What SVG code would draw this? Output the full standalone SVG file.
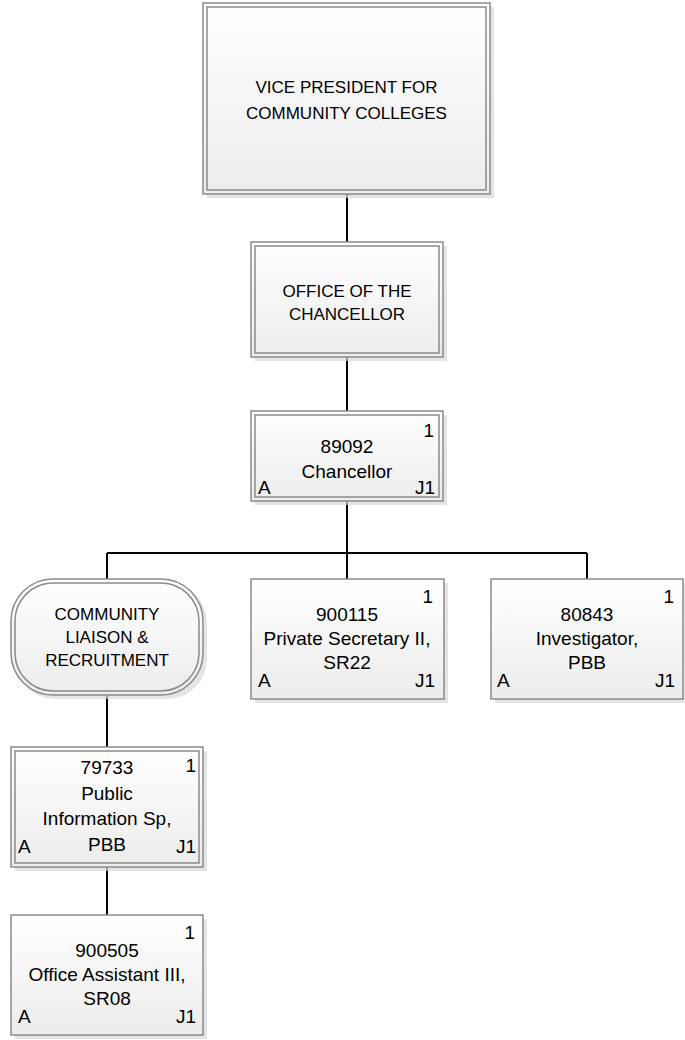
<svg xmlns="http://www.w3.org/2000/svg" width="685" height="1040" viewBox="0 0 685 1040">
<style>
.box{fill:url(#g);stroke:#8a8a8a;stroke-width:1.5}
.inner{fill:none;stroke:#8a8a8a;stroke-width:1.5}
.sh{fill:#d9d9d9;opacity:0.7}
.t{font-family:"Liberation Sans",Arial,sans-serif;font-size:19px;fill:#000;text-anchor:middle}
.u{font-family:"Liberation Sans",Arial,sans-serif;font-size:17px;fill:#000;text-anchor:middle}
.s{font-family:"Liberation Sans",Arial,sans-serif;font-size:19px;fill:#000}
.e{text-anchor:end}
.c{stroke:#000;stroke-width:2;fill:none}
</style>
<defs>
<linearGradient id="g" x1="0" y1="0" x2="0" y2="1">
<stop offset="0" stop-color="#ffffff"/>
<stop offset="1" stop-color="#ececec"/>
</linearGradient>
</defs>
<rect width="685" height="1040" fill="#fff"/>
<g id="connectors">
<path class="c" d="M347 194V242M347 357V411M347 501V553M107 553H587M107 553V579M347 553V579M587 553V579M107 695V747M107 867V915"/>
</g>
<g id="vp">
<rect class="sh" x="207" y="7" width="287" height="191"/>
<rect class="box" x="203" y="3" width="287" height="191"/>
<rect class="inner" x="207" y="7" width="279" height="183"/>
<text class="u" x="346.5" y="93">VICE PRESIDENT FOR</text>
<text class="u" x="346.5" y="119">COMMUNITY COLLEGES</text>
</g>
<g id="office">
<rect class="sh" x="255" y="246" width="192" height="115"/>
<rect class="box" x="251" y="242" width="192" height="115"/>
<rect class="inner" x="255" y="246" width="184" height="107"/>
<text class="u" x="347" y="297">OFFICE OF THE</text>
<text class="u" x="347" y="320">CHANCELLOR</text>
</g>
<g id="chancellor">
<rect class="sh" x="255" y="415" width="192" height="90"/>
<rect class="box" x="251" y="411" width="192" height="90"/>
<rect class="inner" x="255" y="415" width="184" height="82"/>
<text class="s e" x="434" y="437">1</text>
<text class="t" x="347" y="453">89092</text>
<text class="t" x="347" y="478">Chancellor</text>
<text class="s" x="258" y="494">A</text>
<text class="s e" x="435" y="494">J1</text>
</g>
<g id="liaison">
<rect class="sh" x="15" y="583" width="192" height="116" rx="40"/>
<rect class="box" x="11" y="579" width="192" height="116" rx="42"/>
<rect class="inner" x="15" y="583" width="184" height="108" rx="38"/>
<text class="u" x="107" y="620">COMMUNITY</text>
<text class="u" x="107" y="643">LIAISON &amp;</text>
<text class="u" x="107" y="666">RECRUITMENT</text>
</g>
<g id="privsec">
<rect class="sh" x="255" y="583" width="193" height="120"/>
<rect class="box" x="251" y="579" width="193" height="120"/>
<text class="s e" x="433" y="603">1</text>
<text class="t" x="347" y="621">900115</text>
<text class="t" x="347" y="645">Private Secretary II,</text>
<text class="t" x="347" y="669">SR22</text>
<text class="s" x="258" y="687">A</text>
<text class="s e" x="435" y="687">J1</text>
</g>
<g id="investigator">
<rect class="sh" x="495" y="583" width="192" height="120"/>
<rect class="box" x="491" y="579" width="192" height="120"/>
<text class="s e" x="674" y="603">1</text>
<text class="t" x="587" y="621">80843</text>
<text class="t" x="587" y="645">Investigator,</text>
<text class="t" x="587" y="669">PBB</text>
<text class="s" x="497" y="687">A</text>
<text class="s e" x="675" y="687">J1</text>
</g>
<g id="pubinfo">
<rect class="sh" x="15" y="751" width="192" height="120"/>
<rect class="box" x="11" y="747" width="192" height="120"/>
<rect class="inner" x="15" y="751" width="184" height="112"/>
<text class="s e" x="196" y="772">1</text>
<text class="t" x="107" y="774">79733</text>
<text class="t" x="107" y="800">Public</text>
<text class="t" x="107" y="825">Information Sp,</text>
<text class="t" x="107" y="851">PBB</text>
<text class="s" x="18" y="853">A</text>
<text class="s e" x="196" y="853">J1</text>
</g>
<g id="officeasst">
<rect class="sh" x="15" y="919" width="192" height="120"/>
<rect class="box" x="11" y="915" width="192" height="120"/>
<text class="s e" x="195" y="939">1</text>
<text class="t" x="107" y="957">900505</text>
<text class="t" x="107" y="981">Office Assistant III,</text>
<text class="t" x="107" y="1005">SR08</text>
<text class="s" x="18" y="1023">A</text>
<text class="s e" x="196" y="1023">J1</text>
</g>
</svg>
